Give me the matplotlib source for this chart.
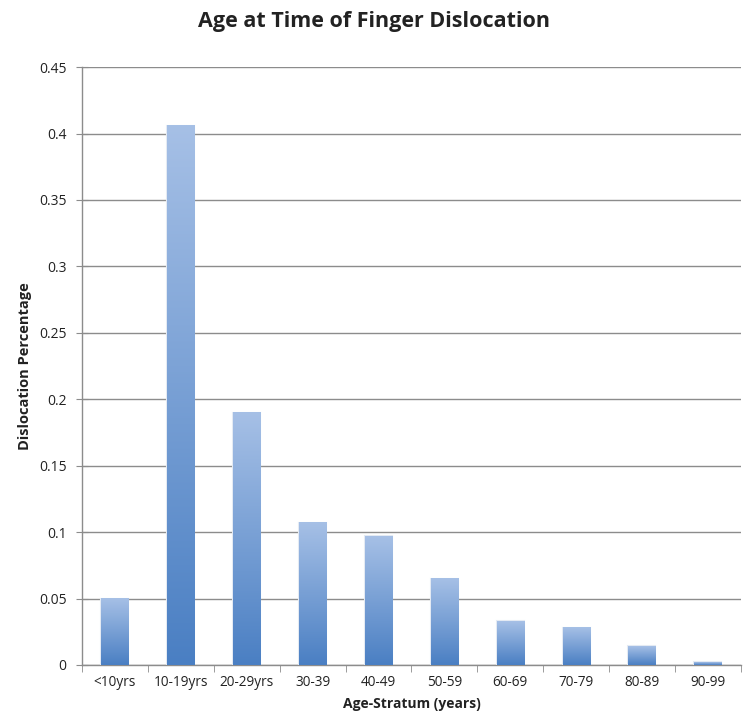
import numpy as np
import matplotlib
matplotlib.use("Agg")
import matplotlib.pyplot as plt
from matplotlib.colors import LinearSegmentedColormap

categories = ["<10yrs", "10-19yrs", "20-29yrs", "30-39", "40-49", "50-59", "60-69", "70-79", "80-89", "90-99"]
values = [0.05, 0.406, 0.19, 0.107, 0.097, 0.065, 0.033, 0.028, 0.014, 0.002]
yticks = [0, 0.05, 0.1, 0.15, 0.2, 0.25, 0.3, 0.35, 0.4, 0.45]
ytick_labels = ["0", "0.05", "0.1", "0.15", "0.2", "0.25", "0.3", "0.35", "0.4", "0.45"]

plt.rcParams['font.family'] = ['Open Sans', 'DejaVu Sans']

fig = plt.figure(figsize=(7.49, 7.22), dpi=100)
ax = fig.add_axes([0.1095, 0.079, 0.8795, 0.828])

x = np.arange(len(categories))
width = 0.41
cmap = LinearSegmentedColormap.from_list("g", ["#4a7fc3", "#a6c0e6"])
grad = np.linspace(0, 1, 256).reshape(-1, 1)

bars = ax.bar(x, values, width=width, color="none", edgecolor="none", zorder=3)
for b in bars:
    x0 = b.get_x()
    h = b.get_height()
    ax.imshow(grad, extent=[x0, x0 + width, 0, h], origin="lower", cmap=cmap,
              aspect="auto", zorder=3, interpolation="bilinear")
    ax.add_patch(plt.Rectangle((x0, 0), width, h, fill=False, edgecolor="#e4eaf3",
                               linewidth=1.5, zorder=2.9))

ax.set_xlim(-0.5, len(categories) - 0.5)
ax.set_ylim(0, 0.45)
ax.set_yticks(yticks)
ax.set_yticklabels(ytick_labels, fontsize=10, color="#222222")
ax.set_xticks(x)
ax.set_xticklabels(categories, fontsize=9.8, color="#222222")
ax.set_xticks(np.arange(-0.5, len(categories)), minor=True)
ax.tick_params(axis="x", which="major", length=0, pad=7)
ax.tick_params(axis="x", which="minor", length=5, color="#8c8c8c", direction="out")
ax.tick_params(axis="y", which="major", length=8, color="#8c8c8c", direction="inout", pad=7)

ax.yaxis.grid(True, color="#8c8c8c", linewidth=1.0, zorder=0)
ax.set_axisbelow(True)
for s in ["top", "right"]:
    ax.spines[s].set_visible(False)
for s in ["left", "bottom"]:
    ax.spines[s].set_color("#8c8c8c")
    ax.spines[s].set_linewidth(1.0)

ax.set_xlabel("Age-Stratum (years)", fontsize=10, fontweight="bold", labelpad=5, color="#222222")
ax.set_ylabel("Dislocation Percentage", fontsize=10.5, fontweight="bold", labelpad=5, color="#222222")
fig.suptitle("Age at Time of Finger Dislocation", fontsize=15.5, fontweight="bold",
             x=0.5, y=0.985, color="#222222")

fig.savefig("out.png", dpi=100)
